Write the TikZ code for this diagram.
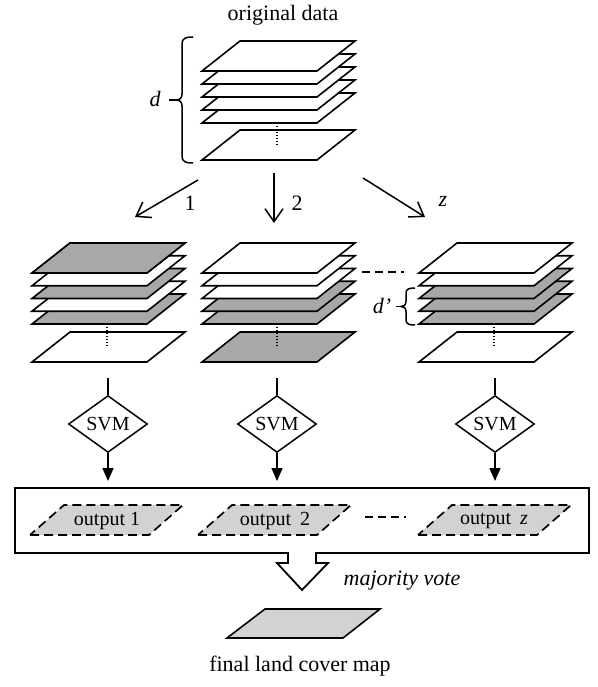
\documentclass[tikz,border=0pt]{standalone}
\usepackage{fontspec}
\setmainfont{Liberation Serif}
\usetikzlibrary{arrows.meta,shapes.geometric}
\definecolor{pgray}{RGB}{168,168,168}
\definecolor{lgray}{RGB}{210,210,210}
\newcommand{\myplate}[3]{\filldraw[platestyle,fill=#3] (#1,#2) -- ++(115,0) -- ++(38,-30) -- ++(-115,0) -- cycle;}
% x, y0 (bottom edge of top plate), spacing, c1..c5 handled via two macros
\newcommand{\mystack}[9]{%
  \myplate{#1}{#9}{#8}%
  \myplate{#1}{#2+4*#3}{#7}%
  \myplate{#1}{#2+3*#3}{#6}%
  \myplate{#1}{#2+2*#3}{#5}%
  \myplate{#1}{#2+1*#3}{#4}%
  \myplate{#1}{#2}{white}%
  \draw[dotline] (#1+75,#2+4*#3) -- ++(0,22);%
}
\newcommand{\outplate}[1]{\filldraw[outstyle] (#1,535) -- ++(119,0) -- ++(34,-30) -- ++(-119,0) -- cycle;}
\begin{document}
\begin{tikzpicture}[x=1pt,y=-1pt,
  platestyle/.style={draw=black,line width=1.6pt,line join=miter},
  outstyle/.style={draw=black,fill=lgray,line width=1.7pt,dash pattern=on 9pt off 5pt},
  dotline/.style={line width=1.6pt,dash pattern=on 1.4pt off 1.6pt},
  lab/.style={font=\fontsize{22}{26}\selectfont,inner sep=0pt},
  svm/.style={draw,shape=diamond,line width=1.5pt,minimum width=79pt,minimum height=50pt,inner sep=0pt,font=\fontsize{20}{24}\selectfont},
  outlab/.style={font=\fontsize{20}{24}\selectfont,inner sep=0pt},
  openarr/.style={line width=1.5pt,-{Straight Barb[length=13pt,width=18pt,line width=1.5pt]}},
  fillarr/.style={line width=1.5pt,-{Triangle[length=13pt,width=11pt]}},
  bracestyle/.style={line width=1.5pt},
  dashsep/.style={line width=1.7pt,dash pattern=on 8pt off 5pt}]
\useasboundingbox (0,0) rectangle (597,687);

% title
\node[lab] (title) at (283,15) {original data};

% top stack
\myplate{202}{160}{white}
\myplate{202}{123}{white}
\myplate{202}{110}{white}
\myplate{202}{97}{white}
\myplate{202}{84}{white}
\myplate{202}{71}{white}
\draw[dotline] (277,123) -- (277,145);

% top brace
\draw[bracestyle] (193,37) .. controls (186,37) and (182,38) .. (182,44) -- (182,94)
  .. controls (182,98) and (180,100) .. (176,100)
  .. controls (180,100) and (182,102) .. (182,106) -- (182,156)
  .. controls (182,162) and (186,163) .. (193,163);
\draw[bracestyle] (176,100) -- (169,100);
\node[lab,font=\fontsize{22}{26}\selectfont\itshape] (dlab) at (155,99) {d};

% split arrows
\coordinate (a1s) at (198,180); \coordinate (a1e) at (135,217);
\coordinate (a2s) at (274,173); \coordinate (a2e) at (274,223);
\coordinate (a3s) at (363,178); \coordinate (a3e) at (425,217);
\draw[openarr] (a1s) -- (a1e);
\draw[openarr] (a2s) -- (a2e);
\draw[openarr] (a3s) -- (a3e);
\node[lab] (l1) at (190,203) {1};
\node[lab] (l2) at (297,203) {2};
\node[lab,font=\fontsize{22}{26}\selectfont\itshape] (lz) at (443,201) {z};

% middle stacks
\mystack{32}{273}{12.75}{white}{pgray}{white}{pgray}{white}{362}
\filldraw[platestyle,fill=pgray] (32,273) -- ++(115,0) -- ++(38,-30) -- ++(-115,0) -- cycle;
\mystack{202}{273}{12.75}{white}{white}{pgray}{pgray}{pgray}{362}
\mystack{419}{273}{12.75}{white}{pgray}{pgray}{pgray}{white}{362}

\coordinate (dd1) at (362,272); \coordinate (dd2) at (404,272);
\draw[dashsep] (dd1) -- (dd2);

% d' brace
\draw[bracestyle] (415,288) .. controls (409,288) and (406,289) .. (406,293) -- (406,301)
  .. controls (406,305) and (404,306.5) .. (401,306.5)
  .. controls (404,306.5) and (406,308) .. (406,312) -- (406,320)
  .. controls (406,324) and (409,325) .. (415,325);
\draw[bracestyle] (401,306.5) -- (396,306.5);
\node[lab,font=\fontsize{22}{26}\selectfont\itshape] (dplab) at (382,306) {d’};

% SVM
\coordinate (t1) at (108,378); \coordinate (t2) at (277,378); \coordinate (t3) at (495,378);
\node[svm] (svm1) at (108,424) {SVM};
\node[svm] (svm2) at (277,424) {SVM};
\node[svm] (svm3) at (495,424) {SVM};
\coordinate (b1) at (108,481); \coordinate (b2) at (277,481); \coordinate (b3) at (495,481);
\draw[line width=1.5pt] (t1) -- (svm1.north);
\draw[line width=1.5pt] (t2) -- (svm2.north);
\draw[line width=1.5pt] (t3) -- (svm3.north);
\draw[fillarr] (svm1.south) -- (b1);
\draw[fillarr] (svm2.south) -- (b2);
\draw[fillarr] (svm3.south) -- (b3);

% output box with hollow arrow
\draw[line width=1.8pt,line join=miter] (15,488) -- (589,488) -- (589,553) -- (316,553) -- (316,563) -- (328,563)
  -- (302,590) -- (277,563) -- (288,563) -- (288,553) -- (15,553) -- cycle;

\outplate{30}
\outplate{198}
\outplate{418}
\node[outlab] (o1) at (107,521) {output 1};
\node[outlab] (o2) at (275,521) {output\hspace{0.45em}2};
\node[outlab] (o3) at (494,521) {output\hspace{0.45em}\textit{z}};
\coordinate (od1) at (365,517); \coordinate (od2) at (406,517);
\draw[dashsep] (od1) -- (od2);

\node[lab,font=\fontsize{22}{26}\selectfont\itshape] (mv) at (402,581) {majority vote};

% final map
\filldraw[platestyle,fill=lgray] (227,638) -- (343,638) -- (380,609) -- (265,609) -- cycle;
\node[lab] (final) at (300,666) {final land cover map};
\end{tikzpicture}
\end{document}
